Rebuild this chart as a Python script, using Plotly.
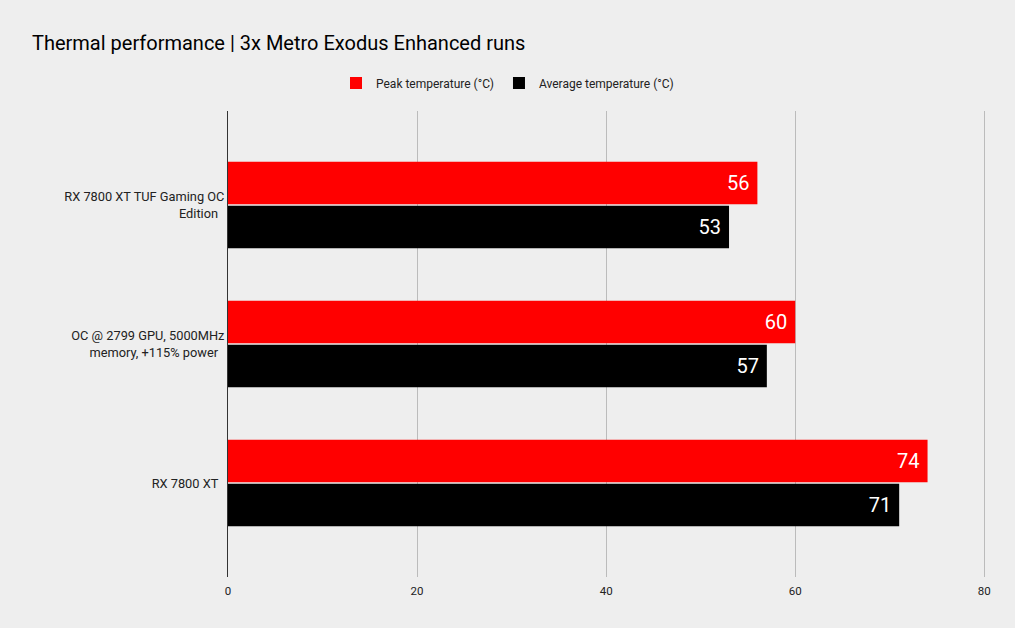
import plotly.graph_objects as go

# 数据
categories = ['RX 7800 XT TUF Gaming OC<br>Edition',
              'OC @ 2799 GPU, 5000MHz<br>memory, +115% power',
              'RX 7800 XT']
peak_temp = [56, 60, 74]
avg_temp = [53, 57, 71]
x_ticks = [0, 20, 40, 60, 80]


def plot_thermal():

    fig = go.Figure()

    # 峰值温度
    fig.add_trace(go.Bar(
        y=categories, x=peak_temp, orientation='h',
        name='Peak temperature (°C)',
        marker=dict(color='#ff0000', line=dict(width=0)),
        text=peak_temp, texttemplate='%{x}\u00a0',
        textposition='inside', insidetextanchor='end',
        textfont=dict(color='white', size=20, family='Roboto'),
    ))

    # 平均温度
    fig.add_trace(go.Bar(
        y=categories, x=avg_temp, orientation='h',
        name='Average temperature (°C)',
        marker=dict(color='#000000', line=dict(width=0)),
        text=avg_temp, texttemplate='%{x}\u00a0',
        textposition='inside', insidetextanchor='end',
        textfont=dict(color='white', size=20, family='Roboto'),
    ))

    fig.update_layout(
        width=1015, height=628,
        paper_bgcolor='#eeeeee', plot_bgcolor='#eeeeee',
        font=dict(family='Roboto', color='#222222', size=12),
        title=dict(text='Thermal performance | 3x Metro Exodus Enhanced runs',
                   x=0.0315, xanchor='left', y=0.9315, yanchor='middle',
                   font=dict(size=20, color='#000000')),
        legend=dict(orientation='h', xref='container', yref='container',
                    x=0.5, xanchor='center', y=0.868, yanchor='middle',
                    font=dict(size=12, color='#222222'), traceorder='normal',
                    itemwidth=30),
        barmode='group', bargap=0.367, bargroupgap=0.03,
        margin=dict(l=228, r=26, t=111, b=51),
        xaxis=dict(range=[0, 80.5], tickvals=x_ticks, showgrid=True,
                   gridcolor='#bbbbbb', gridwidth=1, zeroline=False,
                   showline=False, ticks='', ticklabelstandoff=5,
                   tickfont=dict(size=11.5)),
        yaxis=dict(range=[2.676, -0.676], showgrid=False, showline=True,
                   linecolor='#333333', linewidth=1, ticks='',
                   ticksuffix='  ', tickfont=dict(size=12.8)),
        uniformtext=dict(mode='show', minsize=8),
    )

    return fig


if __name__ == '__main__':
    fig = plot_thermal()
    fig.write_html('out.html', config={'displayModeBar': False},
                   post_script="document.body.style.margin='0';")
